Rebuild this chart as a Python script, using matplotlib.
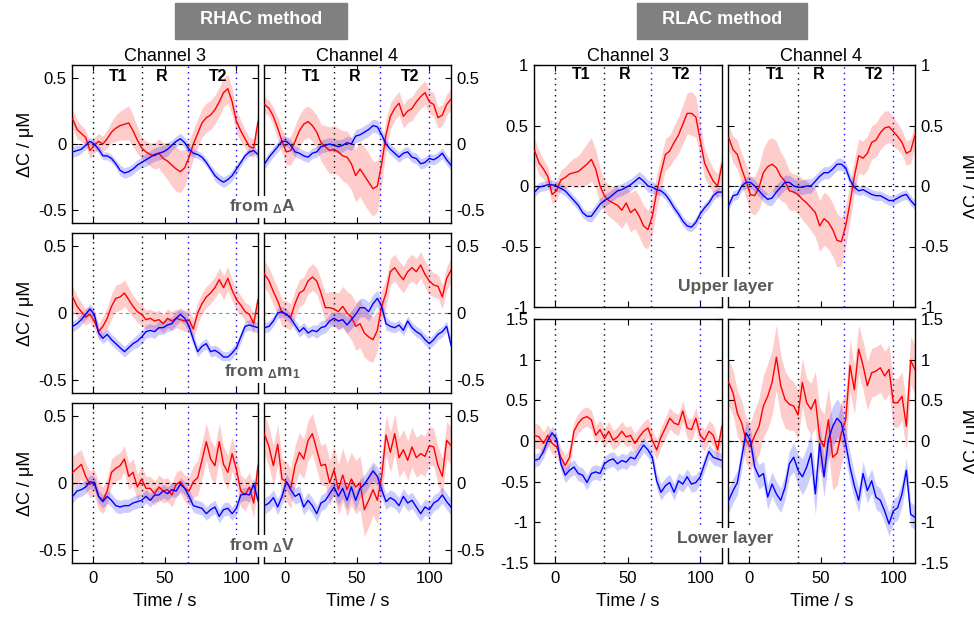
import numpy as np
import matplotlib
matplotlib.use("Agg")
import matplotlib.pyplot as plt
from matplotlib.patches import Rectangle

plt.rcParams.update({
    "font.family": ["Liberation Sans", "DejaVu Sans"],
    "axes.unicode_minus": False,
    "axes.linewidth": 1.0,
})

# time grid (s) the traces were read on
T = [-14, -11, -8, -5, -2, 1, 4, 7, 10, 13, 16, 19, 22, 25, 28, 31, 34, 37, 40, 43, 46, 49,
     52, 55, 58, 61, 64, 67, 70, 73, 76, 79, 82, 85, 88, 91, 94, 97, 100, 103, 106, 109, 112, 115]

# ---- RHAC, from dA ----
a3_red = [0.19,0.11,0.08,0.05,-0.05, -0.01,0.02,0.00,0.04,0.09, 0.12,0.14,0.15,0.16,0.10,
          0.03,-0.03,-0.06,-0.08,-0.09, -0.07,-0.11,-0.13,-0.16,-0.19, -0.21,-0.18,-0.10,0.00,0.08,
          0.16,0.20,0.22,0.26,0.32, 0.39,0.42,0.32,0.17,0.10, 0.04,-0.02,-0.03,0.17]
a3_red_sd = [0.07,0.07,0.06,0.06,0.06, 0.06,0.06,0.06,0.07,0.08, 0.10,0.11,0.12,0.13,0.12,
             0.10,0.08,0.08,0.09,0.10, 0.11,0.12,0.14,0.16,0.17, 0.16,0.14,0.12,0.11,0.11,
             0.11,0.11,0.11,0.11,0.11, 0.11,0.11,0.10,0.09,0.08, 0.07,0.07,0.07,0.07]
a3_blue = [-0.06,-0.05,-0.04,-0.01,0.02, 0.00,-0.04,-0.09,-0.09,-0.11, -0.15,-0.20,-0.22,-0.21,-0.19,
           -0.16,-0.14,-0.12,-0.10,-0.08, -0.07,-0.06,-0.04,-0.01,0.02, 0.04,0.01,-0.04,-0.07,-0.08,
           -0.10,-0.14,-0.19,-0.24,-0.27, -0.29,-0.27,-0.24,-0.19,-0.14, -0.09,-0.06,-0.05,-0.08]
a3_blue_sd = [0.04,0.04,0.03,0.03,0.03, 0.03,0.03,0.03,0.03,0.03, 0.03,0.04,0.04,0.04,0.04,
              0.04,0.04,0.05,0.05,0.05, 0.05,0.05,0.05,0.04,0.04, 0.04,0.04,0.04,0.03,0.03,
              0.03,0.03,0.03,0.04,0.04, 0.04,0.04,0.04,0.04,0.03, 0.03,0.03,0.03,0.03]
a4_red = [0.30,0.27,0.21,0.12,0.02, -0.06,-0.05,0.02,0.10,0.15, 0.17,0.14,0.09,0.01,-0.02,
          -0.05,-0.04,-0.06,-0.09,-0.10, -0.15,-0.24,-0.19,-0.24,-0.29, -0.34,-0.32,-0.15,0.07,0.21,
          0.27,0.31,0.21,0.25,0.27, 0.32,0.36,0.39,0.32,0.30, 0.20,0.22,0.30,0.34]
a4_red_sd = [0.06,0.06,0.07,0.08,0.09, 0.10,0.11,0.12,0.12,0.12, 0.12,0.12,0.13,0.14,0.16,
             0.18,0.18,0.18,0.19,0.20, 0.20,0.20,0.21,0.22,0.22, 0.21,0.19,0.15,0.12,0.10,
             0.09,0.09,0.09,0.09,0.09, 0.09,0.09,0.09,0.09,0.09, 0.08,0.08,0.08,0.08]
a4_blue = [-0.15,-0.10,-0.06,-0.02,0.02, 0.02,-0.01,-0.06,-0.07,-0.09, -0.10,-0.07,-0.06,-0.02,-0.01,
           0.00,-0.01,-0.02,-0.01,0.01, 0.00,0.06,0.07,0.09,0.11, 0.14,0.13,0.07,0.00,-0.04,
           -0.07,-0.10,-0.07,-0.06,-0.10, -0.11,-0.15,-0.14,-0.11,-0.12, -0.10,-0.07,-0.12,-0.16]
a4_blue_sd = [0.04,0.04,0.04,0.04,0.04, 0.04,0.04,0.04,0.04,0.04, 0.04,0.04,0.04,0.05,0.05,
              0.05,0.05,0.05,0.05,0.05, 0.05,0.05,0.05,0.05,0.05, 0.05,0.05,0.04,0.04,0.04,
              0.04,0.04,0.04,0.04,0.04, 0.04,0.04,0.04,0.04,0.04, 0.04,0.04,0.04,0.04]

# ---- RHAC, from dm1 ----
m3_red = [0.12,0.05,0.01,-0.03,-0.01, -0.06,-0.14,-0.10,-0.04,0.05, 0.11,0.12,0.15,0.10,0.05,
          0.01,-0.01,-0.05,-0.04,-0.06, -0.05,-0.08,-0.04,-0.06,-0.04, -0.05,-0.06,-0.05,-0.12,0.00,
          0.07,0.12,0.15,0.19,0.25, 0.19,0.26,0.17,0.10,0.06, 0.01,-0.01,-0.08,0.10]
m3_red_sd = [0.08,0.08,0.07,0.06,0.06, 0.06,0.06,0.07,0.08,0.09, 0.10,0.10,0.10,0.09,0.08,
             0.08,0.08,0.07,0.07,0.07, 0.07,0.07,0.07,0.07,0.07, 0.07,0.08,0.08,0.08,0.08,
             0.08,0.08,0.08,0.08,0.09, 0.09,0.09,0.08,0.08,0.07, 0.07,0.07,0.07,0.07]
m3_blue = [-0.10,-0.08,-0.05,-0.01,0.03, -0.01,-0.15,-0.19,-0.16,-0.20, -0.23,-0.26,-0.29,-0.26,-0.23,
           -0.21,-0.18,-0.14,-0.13,-0.14, -0.11,-0.11,-0.09,-0.08,-0.04, -0.01,-0.04,-0.10,-0.20,-0.29,
           -0.25,-0.23,-0.29,-0.28,-0.30, -0.33,-0.33,-0.30,-0.26,-0.18, -0.10,-0.09,-0.10,-0.11]
m3_blue_sd = [0.04,0.04,0.04,0.04,0.04, 0.04,0.04,0.04,0.04,0.04, 0.04,0.04,0.04,0.04,0.04,
              0.05,0.05,0.05,0.05,0.05, 0.05,0.05,0.05,0.05,0.05, 0.05,0.05,0.05,0.05,0.04,
              0.04,0.04,0.04,0.04,0.04, 0.04,0.04,0.04,0.04,0.04, 0.04,0.04,0.04,0.04]
m4_red = [0.29,0.24,0.16,0.09,0.00, -0.01,-0.03,0.07,0.15,0.17, 0.24,0.27,0.24,0.15,0.04,
          0.04,0.03,0.01,0.05,0.00, -0.03,-0.10,-0.08,-0.15,-0.18, -0.20,-0.13,0.05,0.15,0.31,
          0.34,0.29,0.25,0.31,0.34, 0.31,0.36,0.29,0.24,0.21, 0.20,0.12,0.26,0.32]
m4_red_sd = [0.10,0.10,0.10,0.10,0.10, 0.10,0.10,0.10,0.10,0.10, 0.10,0.10,0.10,0.10,0.11,
             0.12,0.13,0.14,0.15,0.16, 0.17,0.18,0.18,0.18,0.18, 0.17,0.15,0.12,0.10,0.10,
             0.10,0.10,0.10,0.10,0.10, 0.10,0.10,0.10,0.10,0.09, 0.09,0.09,0.09,0.09]
m4_blue = [-0.11,-0.10,-0.06,0.00,0.01, -0.01,-0.04,-0.09,-0.14,-0.11, -0.15,-0.13,-0.14,-0.11,-0.10,
           -0.06,-0.04,-0.06,-0.05,-0.09, -0.05,-0.01,0.04,0.04,0.01, 0.07,0.11,0.05,-0.08,-0.10,
           -0.11,-0.09,-0.13,-0.06,-0.11, -0.14,-0.16,-0.20,-0.23,-0.20, -0.16,-0.14,-0.10,-0.24]
m4_blue_sd = [0.04,0.04,0.04,0.04,0.04, 0.04,0.04,0.04,0.04,0.04, 0.04,0.04,0.05,0.05,0.05,
              0.05,0.05,0.06,0.06,0.06, 0.07,0.07,0.07,0.07,0.07, 0.07,0.06,0.05,0.05,0.04,
              0.04,0.04,0.04,0.04,0.04, 0.04,0.04,0.04,0.04,0.04, 0.04,0.04,0.04,0.04]

# ---- RHAC, from dV ----
v3_red = [0.08,0.11,0.14,0.05,-0.01, 0.01,-0.10,-0.13,-0.06,0.08, 0.11,0.13,0.18,0.05,0.08,
          -0.03,0.03,-0.04,-0.04,-0.08, -0.03,-0.06,-0.05,-0.09,-0.01, 0.01,-0.04,-0.06,0.01,0.04,
          0.17,0.31,0.18,0.13,0.31, 0.14,0.08,0.22,0.10,-0.06, -0.09,-0.03,-0.15,0.13]
v3_red_sd = [0.12,0.12,0.11,0.10,0.10, 0.10,0.10,0.10,0.10,0.10, 0.10,0.10,0.10,0.10,0.10,
             0.10,0.10,0.09,0.09,0.09, 0.09,0.09,0.09,0.09,0.09, 0.09,0.10,0.11,0.12,0.13,
             0.14,0.14,0.14,0.14,0.14, 0.13,0.13,0.13,0.12,0.12, 0.12,0.11,0.11,0.11]
v3_blue = [-0.10,-0.06,-0.05,-0.03,0.01, 0.00,-0.10,-0.14,-0.10,-0.13, -0.17,-0.18,-0.17,-0.17,-0.15,
           -0.14,-0.13,-0.10,-0.13,-0.09, -0.09,-0.06,-0.08,-0.05,-0.06, -0.01,-0.04,-0.10,-0.17,-0.18,
           -0.19,-0.23,-0.20,-0.18,-0.25, -0.20,-0.19,-0.23,-0.19,-0.09, -0.08,-0.09,-0.01,-0.13]
v3_blue_sd = [0.05,0.05,0.05,0.05,0.05, 0.05,0.05,0.05,0.05,0.05, 0.05,0.05,0.05,0.05,0.05,
              0.05,0.05,0.05,0.05,0.05, 0.05,0.05,0.05,0.05,0.05, 0.05,0.05,0.05,0.05,0.05,
              0.05,0.05,0.05,0.05,0.05, 0.05,0.05,0.05,0.05,0.05, 0.05,0.05,0.05,0.05]
v4_red = [0.36,0.27,0.13,0.29,0.03, 0.01,-0.04,0.13,0.23,0.18, 0.32,0.37,0.25,0.13,0.14,
          0.00,0.10,-0.05,0.06,-0.05, 0.03,-0.03,0.00,-0.20,-0.13, -0.05,-0.13,0.05,0.36,0.23,
          0.37,0.19,0.25,0.17,0.27, 0.19,0.22,0.20,0.28,0.27, 0.13,0.05,0.32,0.28]
v4_red_sd = [0.15,0.15,0.15,0.15,0.15, 0.15,0.15,0.15,0.15,0.15, 0.15,0.15,0.15,0.15,0.16,
             0.17,0.18,0.19,0.20,0.20, 0.20,0.20,0.20,0.20,0.20, 0.19,0.18,0.16,0.15,0.15,
             0.15,0.15,0.15,0.15,0.15, 0.15,0.15,0.15,0.15,0.14, 0.14,0.14,0.14,0.14]
v4_blue = [-0.17,-0.15,-0.11,-0.18,-0.10, 0.01,-0.05,-0.10,-0.08,-0.18, -0.13,-0.17,-0.23,-0.15,-0.13,
           -0.08,-0.03,-0.10,-0.04,-0.13, -0.03,-0.13,-0.04,-0.01,0.04, 0.09,0.05,-0.05,-0.14,-0.11,
           -0.13,-0.17,-0.10,-0.15,-0.13, -0.18,-0.23,-0.18,-0.20,-0.15, -0.13,-0.09,-0.14,-0.18]
v4_blue_sd = [0.06,0.06,0.06,0.06,0.06, 0.06,0.06,0.06,0.06,0.06, 0.06,0.06,0.06,0.06,0.06,
              0.06,0.06,0.07,0.07,0.07, 0.07,0.07,0.07,0.07,0.07, 0.07,0.07,0.06,0.06,0.06,
              0.06,0.06,0.06,0.06,0.06, 0.06,0.06,0.06,0.06,0.06, 0.06,0.06,0.06,0.06]

# ---- RLAC, upper layer ----
u3_red = [0.29,0.19,0.14,0.08,-0.07, -0.04,0.05,0.07,0.10,0.11, 0.12,0.15,0.18,0.22,0.14,
          0.00,-0.08,-0.12,-0.14,-0.16, -0.20,-0.14,-0.22,-0.19,-0.25, -0.33,-0.36,-0.25,-0.05,0.11,
          0.26,0.29,0.36,0.42,0.51, 0.60,0.60,0.57,0.38,0.19, 0.11,0.04,0.00,0.18]
u3_red_sd = [0.10,0.10,0.08,0.08,0.08, 0.08,0.08,0.09,0.10,0.12, 0.13,0.15,0.17,0.18,0.16,
             0.14,0.13,0.13,0.14,0.15, 0.15,0.15,0.16,0.16,0.17, 0.17,0.16,0.15,0.14,0.13,
             0.13,0.13,0.14,0.15,0.16, 0.17,0.18,0.17,0.14,0.12, 0.11,0.10,0.10,0.10]
u3_blue = [-0.05,-0.01,0.00,0.01,0.01, 0.00,-0.02,-0.04,-0.08,-0.12, -0.16,-0.22,-0.25,-0.25,-0.20,
           -0.15,-0.12,-0.10,-0.07,-0.04, -0.03,-0.01,0.01,0.04,0.07, 0.04,0.00,-0.01,-0.03,-0.04,
           -0.07,-0.12,-0.18,-0.23,-0.29, -0.33,-0.34,-0.30,-0.23,-0.18, -0.14,-0.08,-0.05,-0.05]
u3_blue_sd = [0.04,0.04,0.04,0.04,0.04, 0.04,0.04,0.04,0.04,0.04, 0.04,0.04,0.04,0.05,0.05,
              0.05,0.05,0.05,0.05,0.05, 0.05,0.05,0.05,0.05,0.05, 0.05,0.05,0.05,0.04,0.04,
              0.04,0.04,0.04,0.04,0.04, 0.04,0.04,0.04,0.04,0.04, 0.04,0.04,0.04,0.04]
u4_red = [0.40,0.30,0.26,0.14,0.04, -0.07,-0.08,-0.01,0.11,0.16, 0.18,0.15,0.08,0.04,-0.04,
          -0.05,-0.07,-0.11,-0.14,-0.18, -0.22,-0.33,-0.27,-0.30,-0.36, -0.45,-0.46,-0.33,-0.14,0.08,
          0.25,0.23,0.27,0.36,0.38, 0.44,0.48,0.49,0.45,0.41, 0.36,0.27,0.29,0.42]
u4_red_sd = [0.10,0.11,0.12,0.13,0.14, 0.15,0.16,0.18,0.20,0.22, 0.22,0.22,0.20,0.18,0.16,
             0.15,0.16,0.17,0.18,0.19, 0.20,0.21,0.22,0.22,0.22, 0.22,0.20,0.17,0.15,0.14,
             0.14,0.14,0.14,0.14,0.14, 0.14,0.14,0.13,0.12,0.11, 0.10,0.10,0.10,0.10]
u4_blue = [-0.16,-0.08,-0.07,0.00,0.03, 0.03,0.00,-0.04,-0.08,-0.11, -0.10,-0.05,-0.01,0.03,0.03,
           0.00,-0.01,-0.01,0.00,0.00, 0.04,0.08,0.11,0.11,0.14, 0.18,0.18,0.15,0.05,-0.01,
           -0.04,-0.03,-0.05,-0.07,-0.08, -0.08,-0.10,-0.12,-0.12,-0.10, -0.08,-0.07,-0.12,-0.16]
u4_blue_sd = [0.04,0.04,0.04,0.04,0.05, 0.05,0.05,0.05,0.05,0.05, 0.06,0.06,0.06,0.06,0.06,
              0.06,0.06,0.06,0.06,0.06, 0.05,0.05,0.05,0.05,0.05, 0.05,0.05,0.05,0.05,0.05,
              0.04,0.04,0.04,0.04,0.04, 0.04,0.04,0.04,0.04,0.04, 0.04,0.04,0.04,0.04]

# ---- RLAC, lower layer ----
l3_red = [0.07,0.05,-0.03,0.07,-0.03, -0.07,-0.20,-0.30,-0.20,0.12, 0.22,0.28,0.30,0.26,0.07,
          0.14,0.03,0.12,0.01,0.05, 0.12,0.05,0.07,-0.03,0.05, 0.12,0.16,0.01,-0.11,0.05,
          0.16,0.28,0.22,0.20,0.37, 0.16,0.14,0.28,0.07,0.01, 0.12,0.07,-0.11,0.18]
l3_red_sd = [0.15,0.15,0.14,0.13,0.13, 0.12,0.12,0.12,0.12,0.12, 0.12,0.12,0.12,0.12,0.12,
             0.12,0.12,0.12,0.12,0.12, 0.12,0.12,0.12,0.12,0.12, 0.12,0.12,0.12,0.12,0.12,
             0.13,0.13,0.13,0.13,0.13, 0.13,0.13,0.13,0.13,0.13, 0.13,0.13,0.13,0.13]
l3_blue = [-0.24,-0.22,-0.13,0.01,0.10, 0.03,-0.28,-0.42,-0.36,-0.32, -0.40,-0.42,-0.51,-0.40,-0.38,
           -0.40,-0.28,-0.24,-0.22,-0.28, -0.24,-0.26,-0.20,-0.22,-0.13, -0.05,-0.11,-0.20,-0.49,-0.63,
           -0.55,-0.51,-0.63,-0.49,-0.53, -0.44,-0.53,-0.51,-0.44,-0.28, -0.13,-0.20,-0.22,-0.24]
l3_blue_sd = [0.08,0.08,0.08,0.08,0.08, 0.08,0.09,0.09,0.09,0.09, 0.09,0.09,0.09,0.09,0.09,
              0.09,0.09,0.09,0.09,0.09, 0.09,0.09,0.09,0.09,0.09, 0.09,0.09,0.09,0.10,0.10,
              0.10,0.10,0.10,0.10,0.10, 0.10,0.10,0.10,0.09,0.09, 0.09,0.09,0.09,0.09]
l4_red = [0.72,0.59,0.34,0.22,0.01, -0.07,0.07,0.18,0.43,0.55, 0.72,1.03,0.68,0.51,0.45,
          0.43,0.32,0.72,0.47,0.39, 0.51,0.03,-0.07,0.26,-0.20, -0.15,0.10,0.26,0.93,0.63,
          1.13,0.93,0.68,0.84,0.86, 0.90,0.80,0.88,0.47,0.47, 0.55,0.18,0.99,0.88]
l4_red_sd = [0.28,0.28,0.28,0.28,0.28, 0.30,0.32,0.35,0.38,0.40, 0.40,0.40,0.38,0.35,0.32,
             0.30,0.30,0.30,0.30,0.32, 0.35,0.38,0.40,0.40,0.40, 0.40,0.38,0.35,0.32,0.30,
             0.30,0.30,0.30,0.30,0.30, 0.30,0.30,0.30,0.30,0.30, 0.30,0.30,0.30,0.30]
l4_blue = [-0.73,-0.61,-0.51,-0.20,0.10, 0.01,-0.32,-0.44,-0.40,-0.69, -0.53,-0.65,-0.73,-0.57,-0.28,
           -0.20,-0.36,-0.44,-0.32,-0.15, -0.65,-0.03,-0.44,0.01,0.18, 0.28,0.22,-0.03,-0.32,-0.55,
           -0.73,-0.40,-0.61,-0.49,-0.69, -0.73,-0.86,-1.02,-0.86,-0.82, -0.65,-0.36,-0.90,-0.94]
l4_blue_sd = [0.15,0.15,0.15,0.15,0.15, 0.15,0.15,0.15,0.15,0.15, 0.15,0.15,0.15,0.15,0.16,
              0.18,0.20,0.22,0.24,0.25, 0.25,0.25,0.25,0.25,0.25, 0.24,0.22,0.20,0.18,0.16,
              0.15,0.15,0.15,0.15,0.15, 0.15,0.15,0.15,0.15,0.15, 0.15,0.15,0.15,0.15]

EVENT_BLACK = [0, 34]
EVENT_BLUE = [66, 100]
PHASES = [("T1", 18), ("R", 48), ("T2", 87)]

W, H = 974, 617
fig = plt.figure(figsize=(W / 100, H / 100), dpi=100)


def box(x0, x1, y0, y1):
    """pixel box (top-left origin) -> figure fraction rect"""
    return [x0 / W, 1 - y1 / H, (x1 - x0) / W, (y1 - y0) / H]


def panel(rect, red, red_sd, blue, blue_sd, ylim, yticks, right=False, bottom=False,
          phases=False, zero_col="k", phase_y=0.93):
    ax = fig.add_axes(rect)
    t = np.array(T)
    for m, s, c in [(red, red_sd, "red"), (blue, blue_sd, "blue")]:
        m, s = np.array(m), np.array(s)
        ax.fill_between(t, m - s, m + s, color=c, alpha=0.2, lw=0, zorder=1)
    for x in EVENT_BLACK:
        ax.axvline(x, color="k", ls=(0, (1, 3)), lw=1, zorder=2)
    for x in EVENT_BLUE:
        ax.axvline(x, color="blue", ls=(0, (1, 3)), lw=1, zorder=2)
    ax.axhline(0, color=zero_col, ls=(0, (3, 3)), lw=0.8, zorder=2)
    ax.plot(t, red, color="red", lw=1.0, zorder=3)
    ax.plot(t, blue, color="blue", lw=1.0, zorder=3)
    ax.set_xlim(-14.5, 115)
    ax.set_ylim(*ylim)
    ax.set_xticks([0, 50, 100])
    ax.set_yticks(yticks)
    ax.set_yticklabels([f"{v:g}" for v in yticks])
    ax.tick_params(direction="in", length=4, top=True, right=True, labelsize=12,
                   labelleft=not right, labelright=right, labelbottom=bottom, pad=4)
    ax.tick_params(axis="x", pad=6)
    if bottom:
        ax.set_xlabel("Time / s", fontsize=13, labelpad=5)
    if phases:
        for lab, x in PHASES:
            ax.text(x, phase_y, lab, transform=ax.get_xaxis_transform(), fontsize=11.5,
                    fontweight="bold", ha="center", va="center")
    return ax


yl = [-0.5, 0, 0.5]
rows = [
    ((65, 223), a3_red, a3_red_sd, a3_blue, a3_blue_sd, a4_red, a4_red_sd, a4_blue, a4_blue_sd, "k"),
    ((233, 393), m3_red, m3_red_sd, m3_blue, m3_blue_sd, m4_red, m4_red_sd, m4_blue, m4_blue_sd, "0.55"),
    ((403, 563), v3_red, v3_red_sd, v3_blue, v3_blue_sd, v4_red, v4_red_sd, v4_blue, v4_blue_sd, "k"),
]
for i, (yy, r3, r3s, b3, b3s, r4, r4s, b4, b4s, zc) in enumerate(rows):
    last = i == len(rows) - 1
    a = panel(box(72, 258, *yy), r3, r3s, b3, b3s, (-0.6, 0.6), yl, bottom=last,
              phases=(i == 0), zero_col=zc, phase_y=0.925)
    b = panel(box(264, 451, *yy), r4, r4s, b4, b4s, (-0.6, 0.6), yl, right=True, bottom=last,
              phases=(i == 0), zero_col=zc, phase_y=0.925)
    if i == 0:
        a.set_title("Channel 3", fontsize=13, pad=3)
        b.set_title("Channel 4", fontsize=13, pad=3)
    zero_y = (yy[0] + yy[1]) / 2
    fig.text(25 / W, 1 - zero_y / H, "ΔC / μM", rotation=90, fontsize=13, ha="center", va="center")

up = [-1, -0.5, 0, 0.5, 1]
lo = [-1.5, -1, -0.5, 0, 0.5, 1, 1.5]
c = panel(box(534, 722, 65, 307), u3_red, u3_red_sd, u3_blue, u3_blue_sd, (-1, 1), up,
          phases=True, phase_y=0.96)
d = panel(box(728, 915, 65, 307), u4_red, u4_red_sd, u4_blue, u4_blue_sd, (-1, 1), up,
          right=True, phases=True, phase_y=0.96)
c.set_title("Channel 3", fontsize=13, pad=3)
d.set_title("Channel 4", fontsize=13, pad=3)
panel(box(534, 722, 319, 563), l3_red, l3_red_sd, l3_blue, l3_blue_sd, (-1.5, 1.5), lo, bottom=True)
panel(box(728, 915, 319, 563), l4_red, l4_red_sd, l4_blue, l4_blue_sd, (-1.5, 1.5), lo,
      right=True, bottom=True)
for zy in (186, 441):
    fig.text(964 / W, 1 - zy / H, "ΔC / μM", rotation=90, fontsize=13, ha="left", va="center")

# method header boxes
for x0, x1, label in [(175, 347, "RHAC method"), (637, 807, "RLAC method")]:
    fig.patches.append(Rectangle((x0 / W, 1 - 39 / H), (x1 - x0) / W, 36 / H,
                                 transform=fig.transFigure, color="#808080", zorder=1))
    fig.text((x0 + x1) / 2 / W, 1 - 19 / H, label, color="white", fontsize=13,
             fontweight="bold", ha="center", va="center", zorder=2)

# row captions with white backing that breaks the spines
grey = "#5a5a5a"
wb = dict(facecolor="white", edgecolor="none", pad=1.5)
for x, y, s in [(262, 207, r"from $\mathregular{_{\Delta}}$A"),
                (262, 372, r"from $\mathregular{_{\Delta}}$m$\mathregular{_1}$"),
                (262, 546, r"from $\mathregular{_{\Delta}}$V"),
                (726, 287, "Upper layer"), (725, 538, "Lower layer")]:
    fig.text(x / W, 1 - y / H, s, color=grey, fontsize=12.5, fontweight="bold",
             ha="center", va="center", bbox=wb, zorder=5)

fig.savefig("out.png", dpi=100)
